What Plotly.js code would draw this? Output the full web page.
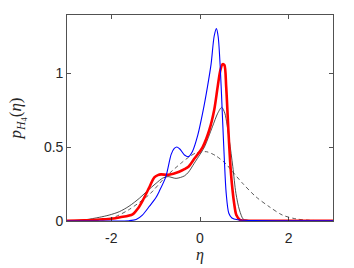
<!DOCTYPE html>
<html><head><meta charset="utf-8">
<script src="https://cdn.plot.ly/plotly-3.0.1.min.js"></script>
<style>html,body{margin:0;padding:0;background:#fff}#c{width:354px;height:268px}</style>
</head><body><div id="c"></div>
<script>
// Blue curve
const blueX = [-3, -2, -1.6, -1.44, -1.3, -1.14, -1.0, -0.92, -0.77, -0.65, -0.58, -0.52, -0.45, -0.35, -0.26, -0.17, -0.05, 0.06, 0.17, 0.25, 0.32, 0.37, 0.41, 0.46, 0.51, 0.55, 0.59, 0.65, 0.72, 0.85, 1.2, 2, 3];
const blueY = [0, 0, 0.002, 0.01, 0.04, 0.10, 0.155, 0.20, 0.30, 0.45, 0.49, 0.50, 0.485, 0.446, 0.435, 0.47, 0.58, 0.73, 0.91, 1.06, 1.25, 1.30, 1.245, 1.02, 0.68, 0.41, 0.19, 0.052, 0.02, 0.008, 0.003, 0.002, 0.001];
// Red curve
const redX = [-3, -2.6, -2.26, -2.0, -1.8, -1.52, -1.4, -1.29, -1.14, -1.03, -0.95, -0.88, -0.73, -0.6, -0.47, -0.35, -0.26, -0.13, 0.06, 0.21, 0.32, 0.40, 0.46, 0.51, 0.55, 0.59, 0.64, 0.68, 0.72, 0.77, 0.82, 0.9, 1.1, 2, 3];
const redY = [0.001, 0.004, 0.01, 0.015, 0.025, 0.045, 0.085, 0.14, 0.23, 0.295, 0.31, 0.315, 0.312, 0.32, 0.333, 0.35, 0.367, 0.42, 0.50, 0.615, 0.75, 0.91, 1.02, 1.06, 1.054, 0.91, 0.615, 0.40, 0.25, 0.12, 0.04, 0.008, 0.002, 0.001, 0.001];
// Black solid curve
const blackX = [-3, -2.6, -2.27, -2.05, -1.82, -1.6, -1.37, -1.2, -0.99, -0.84, -0.72, -0.54, -0.35, -0.26, -0.13, 0.0, 0.10, 0.28, 0.40, 0.49, 0.56, 0.66, 0.74, 0.81, 0.89, 0.98, 1.1, 1.3, 2, 3];
const blackY = [0.001, 0.008, 0.025, 0.04, 0.063, 0.10, 0.153, 0.20, 0.255, 0.29, 0.30, 0.288, 0.305, 0.33, 0.39, 0.45, 0.50, 0.637, 0.728, 0.768, 0.728, 0.547, 0.367, 0.187, 0.074, 0.011, 0.003, 0.001, 0, 0];
// Dashed curve
const dashX = [-3, -2.6, -2.42, -2.05, -1.9, -1.59, -1.14, -0.77, -0.39, -0.26, -0.09, 0.15, 0.36, 0.59, 0.70, 0.96, 1.26, 1.56, 1.86, 2.17, 2.47, 2.8, 3];
const dashY = [0, 0.001, 0.003, 0.016, 0.03, 0.079, 0.18, 0.30, 0.40, 0.43, 0.46, 0.468, 0.44, 0.385, 0.345, 0.255, 0.164, 0.097, 0.04, 0.014, 0.005, 0.001, 0];

const xTicks = [-2, 0, 2];
const yTicks = [0, 0.5, 1];
const yTickText = ['0', '0.5', '1'];

const sp = {shape: 'spline', smoothing: 0.8};
const traces = [
  {x: dashX, y: dashY, mode: 'lines', line: Object.assign({color: '#333', width: 0.8, dash: '4px,3px'}, sp)},
  {x: blackX, y: blackY, mode: 'lines', line: Object.assign({color: '#222', width: 0.8}, sp)},
  {x: redX, y: redY, mode: 'lines', line: Object.assign({color: '#ff0000', width: 2.6}, sp)},
  {x: blueX, y: blueY, mode: 'lines', line: Object.assign({color: '#0000ff', width: 1.1}, sp)}
];
const axCommon = {
  showgrid: false, zeroline: false, showline: true, linecolor: '#262626', linewidth: 0.8,
  mirror: 'ticks', ticks: 'inside', ticklen: 4, tickcolor: '#262626', tickwidth: 0.8,
  tickfont: {family: 'Liberation Sans, Arial, sans-serif', size: 14, color: '#262626'}
};
const layout = {
  width: 354, height: 268, showlegend: false,
  paper_bgcolor: '#fff', plot_bgcolor: '#fff',
  margin: {l: 67, r: 21, t: 15, b: 47},
  xaxis: Object.assign({}, axCommon, {range: [-3, 3], tickvals: xTicks, ticktext: xTicks.map(String), ticklabelstandoff: 4,
    title: {text: '<i>η</i>', font: {family: 'Liberation Serif, serif', size: 16, color: '#262626'}, standoff: 0}}),
  yaxis: Object.assign({}, axCommon, {range: [0, 1.392], tickvals: yTicks, ticktext: yTickText,
    title: {text: '<i>p</i><sub><i>H</i><sub>4</sub></sub>(<i>η</i>)', font: {family: 'Liberation Serif, serif', size: 17, color: '#262626'}, standoff: 17}})
};
Plotly.newPlot('c', traces, layout, {staticPlot: true, displayModeBar: false});
</script></body></html>
